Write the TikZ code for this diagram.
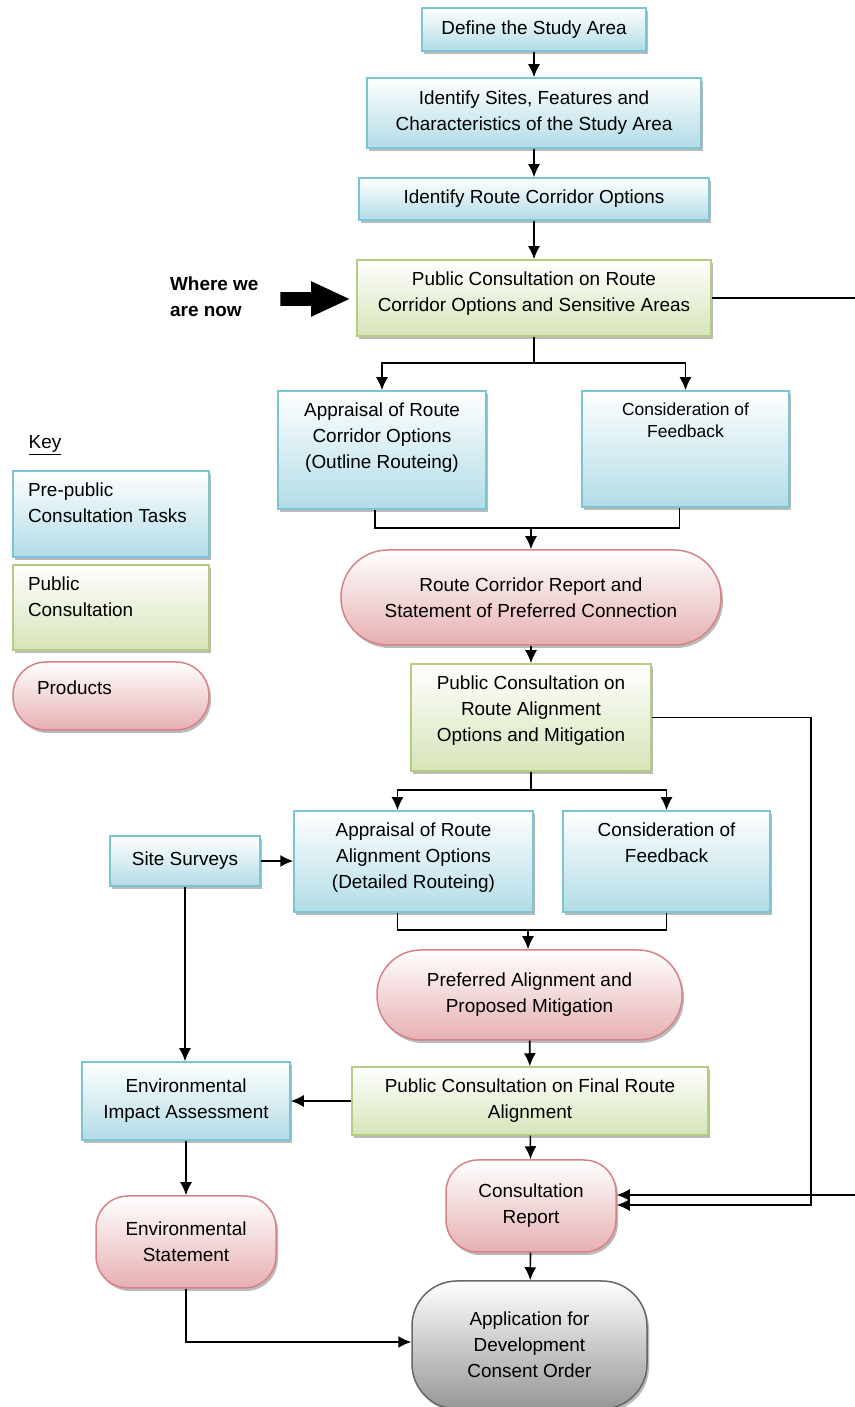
\documentclass[tikz,border=0pt]{standalone}
\usepackage{fontspec}
\setmainfont{Liberation Sans}
\usetikzlibrary{arrows.meta,shadows,shapes.arrows}
\definecolor{taskline}{HTML}{7AC4D6}
\definecolor{taskfill}{HTML}{B2DCE6}
\definecolor{consline}{HTML}{B4CD82}
\definecolor{consfill}{HTML}{D6E4B8}
\definecolor{prodline}{HTML}{D78287}
\definecolor{prodfill}{HTML}{E6B0B2}
\definecolor{appline}{HTML}{666666}
\definecolor{appfill}{HTML}{969696}
\tikzset{
  stage/.style={draw, line width=1.5bp, inner sep=0pt, align=center,
    drop shadow={shadow xshift=2bp, shadow yshift=-3bp, fill=black!45, opacity=0.6}},
  task/.style={stage, draw=taskline, top color=white, bottom color=taskfill},
  consult/.style={stage, draw=consline, top color=white, bottom color=consfill},
  product/.style={stage, draw=prodline, top color=white, bottom color=prodfill},
  submit/.style={stage, draw=appline, top color=white, bottom color=appfill},
  toptext/.style={anchor=north, align=center, inner sep=0pt, yshift=-12bp},
  keytext/.style={anchor=north west, align=left, inner sep=0pt, xshift=15bp, yshift=-12bp},
}
\begin{document}
\begin{tikzpicture}[>={Latex[length=13bp,width=12bp]},line width=1.6bp,font=\fontsize{19}{26}\selectfont]
\useasboundingbox (0bp,0bp) rectangle (855bp,1407bp);
%%
\node (define) at (534bp,1377.5bp) [task,minimum width=224bp,minimum height=43bp] {Define the Study Area};
  \node (sites) at (534bp,1294bp) [task,minimum width=334bp,minimum height=70bp] {Identify Sites, Features and\\Characteristics of the Study Area};
  \node (corr) at (534bp,1208bp) [task,minimum width=350bp,minimum height=42bp] {Identify Route Corridor Options};
  \node (pc1) at (534bp,1109bp) [consult,minimum width=354bp,minimum height=76bp,
    label={[toptext]north:{Public Consultation on Route\\Corridor Options and Sensitive Areas}}] {};
  \node (where) at (166bp,1110bp) [anchor=west,align=left,font=\bfseries\fontsize{19}{26}\selectfont] {Where we\\are now};
  \node (here) at (307.5bp,1108bp) [single arrow,fill=black,inner sep=6bp,minimum height=69bp,single arrow tip angle=50,single arrow head extend=11bp] {};
  \node (appcorr) at (382bp,957bp) [task,minimum width=208bp,minimum height=118bp,
    label={[toptext]north:{Appraisal of Route\\Corridor Options\\(Outline Routeing)}}] {};
  \node (feed1) at (685.5bp,958bp) [task,minimum width=207bp,minimum height=116bp,
    label={[toptext,font=\fontsize{17.5}{22}\selectfont]north:{Consideration of\\Feedback}}] {};
  \node (rcr) at (531bp,809.5bp) [product,rounded corners=47bp,minimum width=380bp,minimum height=95bp] {Route Corridor Report and\\Statement of Preferred Connection};
  \node (pc2) at (531bp,689.5bp) [consult,minimum width=240bp,minimum height=107bp,
    label={[toptext]north:{Public Consultation on\\Route Alignment\\Options and Mitigation}}] {};
  \node (appal) at (413.5bp,545.5bp) [task,minimum width=239bp,minimum height=101bp,
    label={[toptext]north:{Appraisal of Route\\Alignment Options\\(Detailed Routeing)}}] {};
  \node (feed2) at (666.5bp,545.5bp) [task,minimum width=207bp,minimum height=101bp,
    label={[toptext]north:{Consideration of\\Feedback}}] {};
  \node (site) at (185bp,546bp) [task,minimum width=150bp,minimum height=50bp] {Site Surveys};
  \node (pa) at (529.5bp,412bp) [product,rounded corners=44bp,minimum width=305bp,minimum height=90bp] {Preferred Alignment and\\Proposed Mitigation};
  \node (pc3) at (530bp,306bp) [consult,minimum width=356bp,minimum height=68bp] {Public Consultation on Final Route\\Alignment};
  \node (eia) at (186bp,306bp) [task,minimum width=208bp,minimum height=78bp] {Environmental\\Impact Assessment};
  \node (cr) at (531bp,201bp) [product,rounded corners=32bp,minimum width=170bp,minimum height=92bp] {Consultation\\Report};
  \node (es) at (186bp,165bp) [product,rounded corners=32bp,minimum width=180bp,minimum height=92bp] {Environmental\\Statement};
  \node (app) at (529.5bp,62bp) [submit,rounded corners=45bp,minimum width=235bp,minimum height=128bp] {Application for\\Development\\Consent Order};
%% key
  \node (key) at (45bp,962bp) {\underline{Key}};
  \node (keytask) at (111bp,893bp) [task,minimum width=196bp,minimum height=86bp,
    label={[keytext]north west:{Pre-public\\Consultation Tasks}}] {};
  \node (keycons) at (111bp,799.5bp) [consult,minimum width=196bp,minimum height=85bp,
    label={[keytext]north west:{Public\\Consultation}}] {};
  \node (keyprod) at (111bp,711bp) [product,rounded corners=33bp,minimum width=196bp,minimum height=68bp,
    label={[anchor=west,inner sep=0pt,xshift=24bp,yshift=8bp]west:Products}] {};
%% connectors
  \coordinate (fork1) at (534bp,1044bp);
  \coordinate (join1) at (531bp,879bp);
  \coordinate (fork2) at (531bp,617bp);
  \coordinate (join2) at (528bp,477bp);
  \draw [black,->] (define) -- (sites);
  \draw [black,->] (sites) -- (corr);
  \draw [black,->] (corr) -- (pc1);
  \draw [black] (pc1) -- (fork1);
  \draw [black,->] (fork1) -| (appcorr);
  \draw [black,->] (fork1) -| (feed1);
  \draw [black] ([xshift=-7bp]appcorr.south) |- (join1) -| ([xshift=-6bp]feed1.south);
  \draw [black,->] (join1) -- (join1 |- rcr.north);
  \draw [black,->] (rcr) -- (pc2);
  \draw [black] (pc2) -- (fork2);
  \draw [black,->] (fork2) -| ([xshift=-16bp]appal.north);
  \draw [black,->] (fork2) -| (feed2);
  \draw [black,->] (site.east) -- (site.east -| appal.west);
  \draw [black] ([xshift=-16bp]appal.south) |- (join2) -| (feed2.south);
  \draw [black,->] (join2) -- (join2 |- pa.north);
  \draw [black,->] (pa) -- (pc3);
  \draw [black,->] (pc3) -- (eia);
  \draw [black,->] (site) -- (site |- eia.north);
  \draw [black,->] (eia) -- (es);
  \draw [black,->] (pc3) -- (cr);
  \draw [black,->] (cr) -- (app);
  \draw [black,->] (es.south) |- ([yshift=3bp]app.west);
  \draw [black,->] (pc1.east) -- ++(160bp,0bp) |- ([yshift=11bp]cr.east);
  \draw [black,->] (pc2.east) -- ++(159bp,0bp) |- ([yshift=1bp]cr.east);
%
\end{tikzpicture}
\end{document}
